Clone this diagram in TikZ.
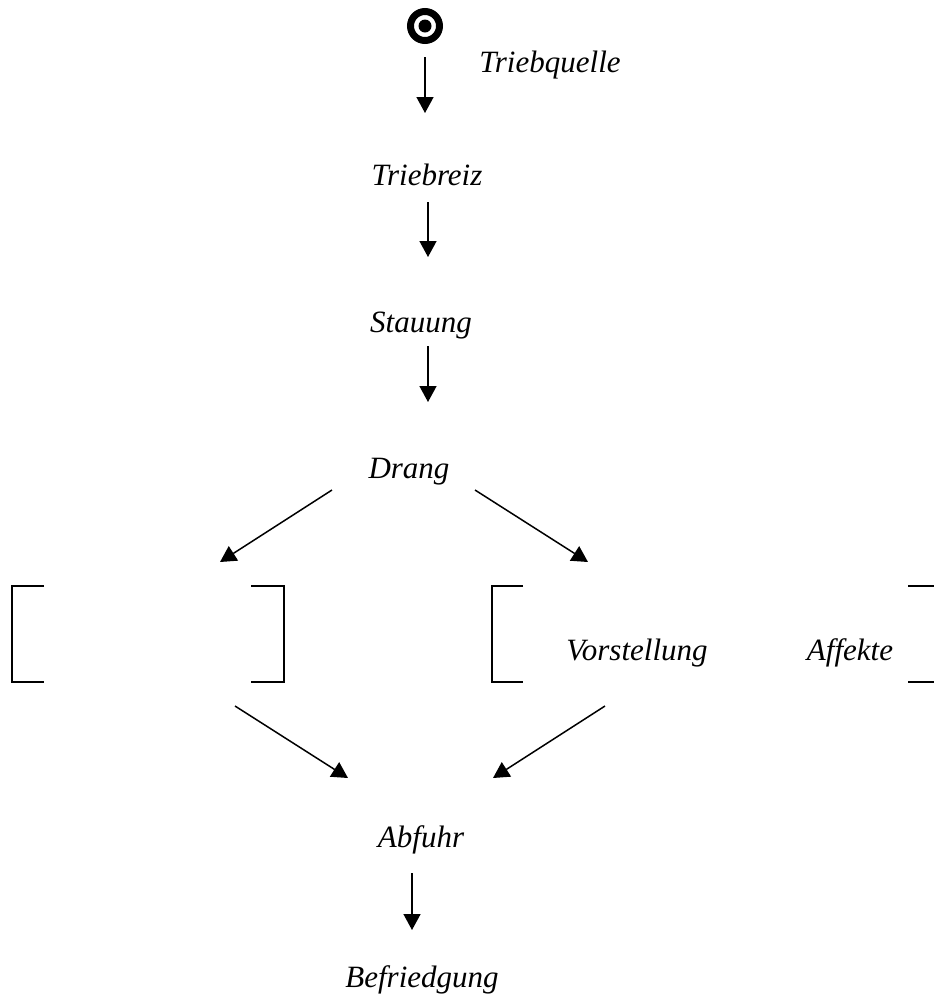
\documentclass[tikz,border=0pt]{standalone}
\usepackage{fontspec}
\setmainfont{Liberation Serif}
\usetikzlibrary{arrows.meta}

\begin{document}
\begin{tikzpicture}[
x=1pt, y=-1pt,
begriff/.style={inner sep=0pt, anchor=base, font=\itshape\fontsize{31}{37}\selectfont},
quelle/.style={circle, draw=black, line width=7pt, minimum size=29pt, inner sep=0pt},
pfeil/.style={-{Triangle[length=16pt,width=17pt]}, line width=1.5pt},
klammer/.style={line width=2pt}
]
\useasboundingbox (0,0) rectangle (934,1005);

%Nodes
\node[quelle]   (Q)    at (425,26)  {};
\fill (Q.center) circle (6.5pt);
\node[begriff]  (TQ)   at (550,72)  {Triebquelle};
\node[begriff]  (TR)   at (427,185) {Triebreiz};
\node[begriff]  (ST)   at (421,332) {Stauung};
\node[begriff]  (DR)   at (409,478) {Drang};
\node[begriff]  (VO)   at (637,660) {Vorstellung};
\node[begriff]  (AF)   at (850,660) {Affekte};
\node[begriff]  (AB)   at (421,847) {Abfuhr};
\node[begriff]  (BE)   at (422,987) {Befriedgung};

\coordinate (L1) at (220,562);
\coordinate (R1) at (588,562);
\coordinate (L2) at (235,706);
\coordinate (R2) at (605,706);

%Brackets
\draw[klammer] (44,586) -- (12,586) -- (12,682) -- (44,682);
\draw[klammer] (251,586) -- (284,586) -- (284,682) -- (251,682);
\draw[klammer] (523,586) -- (492,586) -- (492,682) -- (523,682);
\draw[klammer] (908,586) -- (940,586) -- (940,682) -- (908,682);

%Lines
\draw[pfeil] ([yshift=-31pt]Q.center) -- ([xshift=-2pt,yshift=72pt]TR.base);
\draw[pfeil] ([xshift=1pt,yshift=-17pt]TR.base) -- ([xshift=7pt,yshift=75pt]ST.base);
\draw[pfeil] ([xshift=7pt,yshift=-14pt]ST.base) -- ([xshift=19pt,yshift=76pt]DR.base);
\draw[pfeil] ([xshift=-77pt,yshift=-12pt]DR.base) -- (L1);
\draw[pfeil] ([xshift=66pt,yshift=-12pt]DR.base) -- (R1);
\draw[pfeil] (L2) -- ([xshift=-73pt,yshift=69pt]AB.base);
\draw[pfeil] (R2) -- ([xshift=72pt,yshift=69pt]AB.base);
\draw[pfeil] ([xshift=-9pt,yshift=-26pt]AB.base) -- ([xshift=-10pt,yshift=57pt]BE.base);
\end{tikzpicture}
\end{document}
